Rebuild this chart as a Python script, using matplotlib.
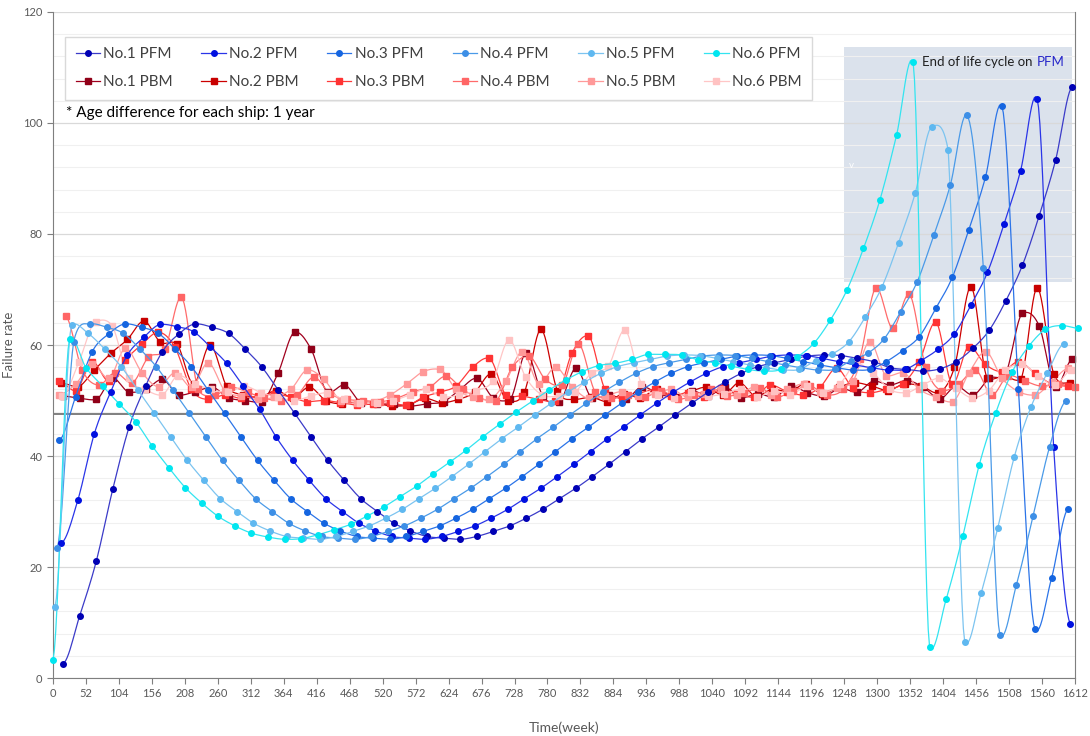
import numpy as np
import matplotlib.pyplot as plt
from matplotlib.lines import Line2D
from matplotlib.patches import Rectangle

plt.rcParams['font.family'] = ['Lato', 'DejaVu Sans']

# sampling step (half a year, in weeks) and first sample week of each ship
STEP = 26.09
pfm_start = [16, 13, 9.7, 6.5, 3.2, 0]
pbm_start = [16, 13, 9.7, 20, 10, 15]

# PFM failure rate
pfm1 = [2.6, 11.2, 21, 34, 45.3, 52.7, 58.8, 62, 63.8, 63.2,
        62.1, 59.3, 56.1, 51.9, 47.7, 43.4, 39.2, 35.6, 32.3, 30,
        27.9, 26.5, 25.5, 25.2, 25.0, 25.5, 26.4, 27.4, 28.8, 30.4,
        32.3, 34.2, 36.3, 38.5, 40.8, 43.1, 45.2, 47.4, 49.5, 51.5,
        53.3, 54.9, 56.1, 56.8, 57.4, 58.0, 58.2, 58.1, 57.6, 57.0,
        55.9, 55.6, 55.3, 55.7, 57.0, 59.4, 62.7, 68.0, 74.4, 83.2,
        93.3, 106.5]
pfm2 = [24.3, 32, 44, 51.6, 58.2, 61.4, 63.7, 63.3, 62.4, 59.7,
        56.7, 52.6, 48.4, 43.4, 39.2, 35.6, 32.3, 30, 27.9, 26.5,
        25.5, 25.2, 25.0, 25.5, 26.4, 27.4, 28.8, 30.4, 32.3, 34.2,
        36.3, 38.5, 40.8, 43.1, 45.2, 47.4, 49.5, 51.5, 53.3, 54.9,
        56.1, 56.8, 57.4, 58.0, 58.2, 58.1, 57.6, 57.0, 56.4, 55.9,
        55.5, 55.6, 57.2, 59.2, 62, 67.2, 73.1, 81.8, 91.4, 104.4,
        41.6, 9.8]
pfm3 = [42.8, 50.7, 58.8, 62, 63.8, 63.2, 62.1, 59.3, 56.1, 51.9,
        47.7, 43.4, 39.2, 35.6, 32.3, 30, 27.9, 26.5, 25.5, 25.2,
        25.0, 25.5, 26.4, 27.4, 28.8, 30.4, 32.3, 34.2, 36.3, 38.5,
        40.8, 43.1, 45.2, 47.4, 49.5, 51.5, 53.3, 54.9, 56.1, 56.8,
        57.4, 58.0, 58.2, 58.1, 57.6, 57.0, 56.4, 55.9, 55.5, 55.6,
        57, 59, 61.5, 66.6, 72.2, 80.8, 90.2, 103, 52, 8.8,
        18, 30.5]
pfm4 = [23.4, 60.6, 63.8, 63.2, 62.1, 59.3, 56.1, 51.9, 47.7, 43.4,
        39.2, 35.6, 32.3, 30, 27.9, 26.5, 25.5, 25.2, 25.0, 25.5,
        26.4, 27.4, 28.8, 30.4, 32.3, 34.2, 36.3, 38.5, 40.8, 43.1,
        45.2, 47.4, 49.5, 51.5, 53.3, 54.9, 56.1, 56.8, 57.4, 58.0,
        58.2, 58.1, 57.6, 57.0, 56.4, 55.9, 55.5, 55.6, 57.2, 58.5,
        61.1, 66, 71.4, 79.8, 88.8, 101.4, 73.8, 7.8, 16.8, 29.1,
        41.6, 49.9]
pfm5 = [12.8, 63.6, 62.1, 59.3, 56.1, 51.9, 47.7, 43.4, 39.2, 35.6,
        32.3, 30, 27.9, 26.5, 25.5, 25.2, 25.0, 25.5, 26.4, 27.4,
        28.8, 30.4, 32.3, 34.2, 36.3, 38.5, 40.8, 43.1, 45.2, 47.4,
        49.5, 51.5, 53.3, 54.9, 56.1, 56.8, 57.4, 58.0, 58.2, 58.1,
        57.6, 57.0, 56.4, 55.9, 55.5, 55.6, 57.2, 58.4, 60.6, 65.1,
        70.5, 78.4, 87.3, 99.3, 95.1, 6.5, 15.4, 27.1, 39.9, 48.8,
        55, 60.2]
pfm6 = [3.2, 61, 55.9, 52.6, 49.4, 46.2, 41.8, 37.9, 34.3, 31.5,
        29.1, 27.4, 26.1, 25.4, 25.0, 25.1, 25.8, 26.7, 27.7, 29.2,
        30.8, 32.7, 34.6, 36.8, 38.9, 41.1, 43.5, 45.7, 47.9, 49.9,
        51.9, 53.7, 55.2, 56.3, 56.7, 57.4, 58.3, 58.3, 58.2, 57.3,
        56.8, 56.2, 55.6, 55.3, 55.6, 57.8, 60.3, 64.5, 69.9, 77.4,
        86.2, 97.8, 111, 5.5, 14.2, 25.5, 38.4, 47.8, 55.2, 59.8,
        62.8, 63.5, 63.0]

# PBM failure rate
pbm1 = [50.8, 50.4, 50.2, 54.0, 51.5, 52.0, 53.8, 51.0, 51.6, 52.4,
        50.5, 50.0, 49.8, 55.0, 62.3, 59.2, 51.5, 52.8, 49.6, 49.4,
        49.3, 49.0, 49.4, 49.8, 52.0, 54.0, 50.5, 50.2, 58.6, 50.8,
        49.8, 55.8, 50.4, 51.0, 50.2, 52.5, 51.2, 50.6, 51.8, 50.8,
        52.4, 50.5, 51.2, 50.6, 52.6, 51.4, 50.8, 52.2, 51.5, 53.5,
        52.8, 53.6, 52.4, 50.3, 52.6, 51.0, 54.0, 55.0, 65.7, 63.5,
        52.5, 57.4]
pbm2 = [53.2, 52.5, 55.5, 58.5, 61.0, 64.3, 60.5, 60.2, 53.0, 60.0,
        52.6, 51.0, 50.6, 51.8, 50.5, 52.4, 50.0, 49.4, 49.8, 49.5,
        49.0, 49.2, 50.4, 49.6, 50.2, 51.5, 54.8, 50.0, 51.5, 62.8,
        51.8, 50.2, 50.6, 49.8, 51.2, 50.5, 52.0, 50.8, 51.6, 52.4,
        51.0, 53.2, 50.8, 52.0, 51.6, 53.0, 51.2, 52.4, 53.2, 52.6,
        51.8, 53.0, 52.6, 51.4, 56.0, 70.5, 54.0, 54.4, 53.8, 70.3,
        54.8, 53.2]
pbm3 = [53.5, 51.8, 57.0, 53.5, 57.3, 60.1, 62.3, 59.6, 52.0, 50.2,
        51.0, 50.4, 50.8, 51.2, 50.6, 49.8, 50.0, 49.6, 49.2, 49.4,
        49.6, 49.1, 50.6, 51.5, 52.6, 56.0, 57.6, 51.0, 50.8, 50.2,
        50.0, 58.5, 61.6, 52.0, 50.5, 51.2, 52.0, 50.8, 51.4, 50.6,
        52.2, 51.2, 50.6, 52.8, 51.6, 51.0, 52.4, 55.8, 52.2, 51.4,
        52.0, 53.0, 57.0, 64.1, 53.0, 59.7, 56.5, 55.2, 57.0, 54.9,
        53.0, 52.6]
pbm4 = [65.2, 55.5, 52.8, 55.0, 53.2, 57.8, 59.3, 68.6, 52.0, 51.0,
        52.4, 51.5, 50.4, 50.0, 51.0, 54.2, 51.2, 50.2, 50.0, 49.8,
        50.4, 51.6, 52.4, 54.4, 52.0, 50.5, 50.0, 56.0, 58.0, 53.8,
        52.8, 60.2, 51.6, 50.4, 51.0, 50.6, 51.8, 50.2, 51.0, 52.0,
        50.8, 51.4, 52.2, 50.6, 51.8, 52.6, 51.0, 52.0, 57.5, 70.3,
        63.0, 69.1, 56.0, 51.8, 53.0, 55.5, 51.0, 54.5, 53.5, 52.6,
        53.0, 52.4]
pbm5 = [51.0, 53.0, 56.5, 54.0, 59.4, 55.0, 52.5, 55.0, 52.4, 56.8,
        51.8, 50.8, 50.2, 50.6, 52.0, 55.5, 53.8, 50.0, 49.6, 49.8,
        51.0, 53.0, 55.2, 55.6, 52.0, 50.6, 50.2, 53.5, 58.8, 53.0,
        56.0, 52.5, 50.4, 50.8, 51.6, 50.8, 51.2, 52.0, 50.6, 51.2,
        52.0, 51.0, 52.4, 51.0, 52.0, 53.0, 51.6, 52.2, 53.6, 60.6,
        54.5, 55.0, 52.0, 50.6, 49.8, 55.0, 58.8, 54.0, 51.6, 51.0,
        53.4, 55.8]
pbm6 = [50.8, 57.0, 64.2, 63.5, 54.0, 52.0, 51.0, 54.5, 53.0, 52.0,
        51.5, 52.6, 51.4, 50.6, 50.0, 50.8, 51.4, 50.2, 49.6, 49.5,
        50.0, 51.0, 52.0, 50.6, 51.0, 51.8, 53.5, 60.9, 54.2, 51.0,
        50.8, 51.6, 55.0, 56.2, 62.7, 53.0, 51.0, 50.4, 51.6, 50.8,
        51.2, 52.0, 50.6, 51.8, 51.0, 52.6, 51.4, 53.0, 56.6, 55.0,
        52.0, 51.4, 52.8, 54.0, 52.2, 50.5, 51.8, 55.5, 56.5, 54.4,
        52.8, 55.5]

pfm_series = [pfm1, pfm2, pfm3, pfm4, pfm5, pfm6]
pbm_series = [pbm1, pbm2, pbm3, pbm4, pbm5, pbm6]
pfm_labels = ['No.%d PFM' % i for i in range(1, 7)]
pbm_labels = ['No.%d PBM' % i for i in range(1, 7)]

pfm_line = ['#3b3bc8', '#2a35e8', '#2b74e8', '#4a9ae8', '#7cc4f0', '#33e4f0']
pfm_mark = ['#0000b4', '#0010e0', '#1565e0', '#3d8fe6', '#5fb8f0', '#00e6f0']
pbm_line = ['#a0001e', '#cc0000', '#ff3a3a', '#ff6b6b', '#ff9a9a', '#ffc6c6']
pbm_mark = ['#900018', '#c80000', '#ff3333', '#ff6666', '#ff9999', '#ffc2c2']

xticks = np.arange(0, 1613, 52)
band_x = (1247, 1607)
band_y = (71.3, 113.7)
base_level = 47.6


def smooth(x, y, n=12):
    # smoothed line through the points, softer at turning points like Excel
    x = np.asarray(x, float)
    y = np.asarray(y, float)
    ey = np.concatenate([[y[0]], y, [y[-1]]])
    dy = (ey[2:] - ey[:-2]) / 2
    turn = (ey[1:-1] - ey[:-2]) * (ey[2:] - ey[1:-1]) <= 0
    dy[turn] *= 0.35
    dx = np.gradient(x)
    t = np.linspace(0, 1, n, endpoint=False)[:, None]
    out = []
    for p, d, limit in ((x, dx, False), (y, dy, True)):
        p1, p2 = p[:-1], p[1:]
        c1 = p1 + d[:-1] / 3
        c2 = p2 - d[1:] / 3
        if limit:
            m = 0.15 * np.abs(p2 - p1) + 0.5
            lo = np.minimum(p1, p2) - m
            hi = np.maximum(p1, p2) + m
            c1 = np.clip(c1, lo, hi)
            c2 = np.clip(c2, lo, hi)
        b = ((1 - t) ** 3 * p1 + 3 * (1 - t) ** 2 * t * c1
             + 3 * (1 - t) * t ** 2 * c2 + t ** 3 * p2)
        out.append(np.append(b.T.ravel(), p[-1]))
    return out[0], out[1]


fig = plt.figure(figsize=(10.9, 7.36), dpi=100)
ax = fig.add_axes([0.0486, 0.0788, 0.9376, 0.9049])

ax.add_patch(Rectangle((band_x[0], band_y[0]), band_x[1] - band_x[0], band_y[1] - band_y[0],
                       facecolor='#dbe2ec', edgecolor='none', zorder=0.3))
ax.axhline(base_level, color='#7f7f7f', lw=1.4, zorder=1.5)

handles = {}
for k in range(6):
    vals = pbm_series[k]
    xs = pbm_start[k] + STEP * np.arange(len(vals))
    sx, sy = smooth(xs, vals)
    ax.plot(sx, sy, color=pbm_line[k], lw=0.9, zorder=2, clip_on=False)
    ax.plot(xs, vals, ls='none', marker='s', ms=4, mfc=pbm_mark[k], mec=pbm_mark[k],
            zorder=2.5, clip_on=False)
    handles[pbm_labels[k]] = Line2D([], [], color=pbm_line[k], lw=0.9, marker='s', ms=4,
                                    mfc=pbm_mark[k], mec=pbm_mark[k])
for k in range(6):
    vals = pfm_series[k]
    xs = pfm_start[k] + STEP * np.arange(len(vals))
    sx, sy = smooth(xs, vals)
    ax.plot(sx, sy, color=pfm_line[k], lw=0.9, zorder=3, clip_on=False)
    ax.plot(xs, vals, ls='none', marker='o', ms=4, mfc=pfm_mark[k], mec=pfm_mark[k],
            zorder=3.5, clip_on=False)
    handles[pfm_labels[k]] = Line2D([], [], color=pfm_line[k], lw=0.9, marker='o', ms=4,
                                    mfc=pfm_mark[k], mec=pfm_mark[k])

ax.set_xlim(0, 1612)
ax.set_ylim(0, 120)
ax.set_xticks(xticks)
ax.set_yticks(np.arange(0, 121, 20))
ax.set_yticks(np.arange(0, 121, 4), minor=True)
ax.set_axisbelow(True)
ax.grid(axis='y', which='major', color='#d9d9d9', lw=0.9)
ax.grid(axis='y', which='minor', color='#f0f0f0', lw=0.8)
ax.tick_params(axis='both', which='major', colors='#7f7f7f', labelcolor='#595959',
               labelsize=8, direction='out', length=4)
ax.tick_params(axis='y', which='minor', length=0)
for side in ['left', 'bottom', 'right']:
    ax.spines[side].set_color('#7f7f7f')
ax.spines['top'].set_visible(False)

ax.set_xlabel('Time(week)', fontsize=10, color='#595959', labelpad=16)
ax.set_ylabel('Failure rate', fontsize=9.5, color='#595959', labelpad=6)

order = []
for k in range(6):
    order += [pfm_labels[k], pbm_labels[k]]
leg = ax.legend([handles[n] for n in order], order, ncol=6, loc='lower left',
                bbox_to_anchor=(0.0117, 0.868, 0.731, 0.0945), mode='expand',
                fontsize=11, frameon=True, fancybox=False, edgecolor='#d9d9d9',
                framealpha=1, labelspacing=0.9, borderpad=0.7,
                handlelength=1.6, handletextpad=0.2, borderaxespad=0)
for txt in leg.get_texts():
    txt.set_color('#404040')

ax.text(0.0127, 0.848, '* Age difference for each ship: 1 year', transform=ax.transAxes,
        fontsize=11, va='center', ha='left', color='#000000')

ax.text(1260, 92.4, 'v', color='white', fontsize=7, ha='center', va='center', zorder=1)
pfm_txt = ax.text(1596, 111, 'PFM', color='#2626c9', fontsize=9.5, ha='right', va='center',
                  zorder=5)
fig.canvas.draw()
bb = pfm_txt.get_window_extent()
x_left = ax.transData.inverted().transform((bb.x0 - 4, bb.y0))[0]
ax.text(x_left, 111, 'End of life cycle on', color='#202020', fontsize=9.5, ha='right',
        va='center', zorder=5)

fig.savefig('out.png', dpi=100)
